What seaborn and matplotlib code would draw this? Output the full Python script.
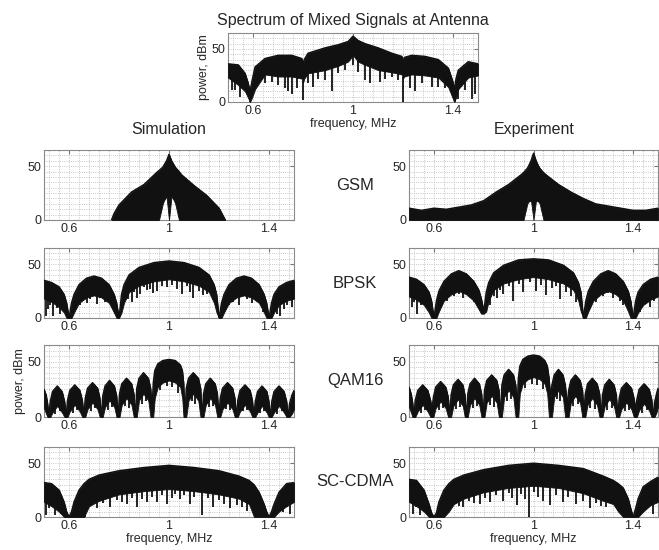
import numpy as np
import matplotlib
matplotlib.use("Agg")
import matplotlib.pyplot as plt
from matplotlib.ticker import MultipleLocator
import seaborn as sns

sns.set_style("white")
plt.rcParams['font.family'] = ['Liberation Sans', 'DejaVu Sans']

# ---- mixed signal at antenna (envelopes) ----
f_mix = [0.5, 0.541, 0.568, 0.58, 0.588, 0.596, 0.608, 0.648, 0.70, 0.755, 0.795, 0.80, 0.805,
         0.82, 0.888, 0.941, 0.98, 1.0, 1.02, 1.048, 1.101, 1.155, 1.195, 1.20, 1.205, 1.235,
         1.288, 1.341, 1.381, 1.398, 1.405, 1.412, 1.421, 1.461, 1.5]
top_mix = [36, 35, 27, 18, 10, 20, 33, 41, 44, 44, 41, 36, 40,
           46, 51, 54, 57, 62, 58, 55, 51, 46, 43, 38, 42, 44,
           43, 40, 32, 20, 12, 22, 30, 38, 36]
low_mix = [23, 16, 10, 4, 0, 4, 12, 26, 24, 24, 22, 18, 22,
           27, 30, 34, 38, 44, 38, 35, 30, 28, 26, 22, 24, 26,
           25, 23, 14, 4, 0, 4, 12, 23, 25]
sf_mix = [0.515, 0.528, 0.548, 0.561, 0.588, 0.621, 0.648, 0.675, 0.701, 0.728, 0.741, 0.755,
          0.775, 0.801, 0.821, 0.841, 0.861, 0.888, 0.915, 0.941, 0.968, 1.0, 1.021, 1.048,
          1.068, 1.108, 1.128, 1.155, 1.181, 1.201, 1.228, 1.248, 1.275, 1.315, 1.341, 1.368,
          1.408, 1.421, 1.448, 1.475, 1.488]
sd_mix = [11, 11, 5, 16, 0, 21, 18, 19, 16, 13, 10, 8,
          13, 2, 18, 14, 22, 21, 10, 27, 30, 35, 28, 21,
          18, 19, 22, 24, 21, 0, 13, 10, 18, 14, 14, 13,
          0, 3, 11, 3, 8]

# ---- GSM ----
f_gsm_sim = [0.77, 0.78, 0.80, 0.85, 0.90, 0.95, 0.96, 0.975, 0.98, 0.99, 1.0, 1.01, 1.02,
             1.025, 1.04, 1.05, 1.10, 1.15, 1.20, 1.225]
top_gsm_sim = [0, 6, 14, 26, 33, 44, 46, 49, 51, 55, 61, 55, 51, 49, 45, 42, 32, 23, 11, 0]
low_gsm_sim = [0, 0, 0, 0, 0, 0, 0, 15, 18, 22, 0, 22, 18, 15, 0, 0, 0, 0, 0, 0]

f_gsm_exp = [0.5, 0.55, 0.6, 0.65, 0.7, 0.75, 0.8, 0.85, 0.9, 0.95, 0.96, 0.975, 0.98, 0.99,
             1.0, 1.01, 1.02, 1.025, 1.04, 1.05, 1.1, 1.15, 1.2, 1.25, 1.3, 1.35, 1.4, 1.45, 1.5]
top_gsm_exp = [11, 9, 11, 10, 12, 14, 18, 26, 33, 42, 44, 48, 50, 55, 62, 55, 50, 48, 44, 42,
               33, 26, 20, 15, 13, 11, 9, 9, 11]
low_gsm_exp = [0, 0, 0, 0, 0, 0, 0, 0, 0, 0, 0, 15, 17, 18, 0, 18, 17, 15, 0, 0,
               0, 0, 0, 0, 0, 0, 0, 0, 0]

# ---- BPSK ----
f_bpsk = [0.5, 0.53, 0.56, 0.58, 0.59, 0.6, 0.61, 0.62, 0.64, 0.67, 0.7, 0.73, 0.76, 0.78,
          0.79, 0.8, 0.81, 0.82, 0.84, 0.88, 0.94, 1.0, 1.06, 1.12, 1.16, 1.18, 1.19, 1.2,
          1.21, 1.22, 1.24, 1.27, 1.3, 1.33, 1.36, 1.38, 1.39, 1.4, 1.41, 1.42, 1.44, 1.47, 1.5]
top_bpsk_sim = [35, 33, 29, 22, 14, 0, 14, 22, 31, 37, 39, 37, 31, 22,
                14, 0, 22, 31, 40, 47, 51.5, 53, 51.5, 47, 40, 31, 22, 0,
                14, 22, 31, 37, 39, 37, 31, 22, 14, 0, 14, 22, 29, 33, 35]
low_bpsk_sim = [18, 15, 10, 5, 0, 0, 0, 5, 14, 19, 21, 19, 14, 5,
                0, 0, 5, 14, 24, 30, 34, 36, 34, 30, 24, 14, 5, 0,
                0, 5, 14, 19, 21, 19, 14, 5, 0, 0, 0, 5, 12, 16, 18]
top_bpsk_exp = [38, 36, 31, 24, 16, 0, 16, 25, 34, 41, 44, 41, 34, 26,
                18, 6, 24, 33, 42, 49, 54, 55, 54, 49, 42, 33, 24, 0,
                16, 25, 34, 41, 44, 41, 34, 25, 16, 0, 16, 24, 31, 36, 38]
low_bpsk_exp = [20, 17, 12, 5, 0, 0, 0, 6, 16, 22, 25, 22, 16, 8,
                4, 4, 6, 16, 26, 32, 36, 38, 36, 32, 26, 16, 6, 0,
                0, 6, 16, 22, 25, 22, 16, 6, 0, 0, 0, 5, 12, 17, 20]
sf_bpsk_sim = [0.509, 0.516, 0.523, 0.536, 0.55, 0.563, 0.63, 0.643, 0.656, 0.67, 0.683, 0.71,
               0.723, 0.743, 0.763, 0.783, 0.836, 0.85, 0.86, 0.87, 0.883, 0.9, 0.91, 0.923,
               0.937, 0.95, 0.97, 0.99, 1.01, 1.03, 1.05, 1.07, 1.083, 1.097, 1.12, 1.137,
               1.15, 1.177, 1.224, 1.24, 1.257, 1.28, 1.31, 1.33, 1.35, 1.377, 1.43, 1.444,
               1.458, 1.471, 1.49]
sd_bpsk_sim = [2, 8, 12, 2, 9, 4, 10, 12, 16, 14, 18, 13,
               19, 15, 16, 10, 18, 15, 24, 19, 22, 29, 26, 27,
               23, 25, 30, 29, 31, 27, 22, 30, 24, 19, 25, 21,
               22, 19, 10, 12, 15, 12, 18, 14, 19, 6, 4, 2,
               8, 12, 10]
sf_bpsk_exp = [0.511, 0.52, 0.531, 0.55, 0.571, 0.624, 0.64, 0.651, 0.68, 0.7, 0.718, 0.74,
               0.76, 0.785, 0.825, 0.84, 0.852, 0.865, 0.878, 0.9, 0.918, 0.94, 0.959, 0.985,
               1.012, 1.03, 1.052, 1.075, 1.09, 1.106, 1.13, 1.15, 1.172, 1.219, 1.235, 1.253,
               1.28, 1.3, 1.32, 1.346, 1.36, 1.386, 1.426, 1.445, 1.467, 1.485]
sd_bpsk_exp = [10, 15, 4, 12, 12, 15, 19, 16, 20, 22, 19, 20,
               15, 7, 12, 20, 19, 26, 22, 30, 16, 32, 24, 33,
               25, 31, 21, 28, 30, 18, 24, 20, 15, 13, 17, 15,
               20, 23, 19, 16, 12, 4, 6, 14, 10, 16]

# ---- QAM16 ----
f_qam_sim = [0.5, 0.508, 0.514, 0.519, 0.525, 0.534, 0.553, 0.572, 0.582, 0.588,
             0.594, 0.603, 0.623, 0.643, 0.653, 0.659, 0.665, 0.674, 0.694, 0.714, 0.723, 0.729,
             0.735, 0.744, 0.762, 0.781, 0.790, 0.796, 0.802, 0.811, 0.830, 0.850, 0.859, 0.865,
             0.871, 0.880, 0.898, 0.917, 0.926, 0.932,
             0.937, 0.943, 0.955, 0.975, 1.0, 1.025, 1.045, 1.053, 1.058, 1.063,
             1.069, 1.078, 1.097, 1.117, 1.126, 1.132, 1.138, 1.147, 1.165, 1.184, 1.193, 1.199,
             1.205, 1.214, 1.234, 1.254, 1.263, 1.269, 1.275, 1.284, 1.304, 1.324, 1.333, 1.339,
             1.345, 1.354, 1.372, 1.391, 1.399, 1.405, 1.411, 1.420, 1.440, 1.460, 1.470, 1.476,
             1.482, 1.492, 1.5]
top_qam_sim = [25, 20, 12, 0, 14, 23, 28, 23, 14, 0,
               15, 24, 29, 24, 15, 0, 17, 26, 31, 26, 17, 0,
               19, 28, 33, 28, 19, 0, 21, 30, 35, 30, 21, 0,
               26, 35, 40, 35, 26, 6,
               31, 42, 48, 51, 52, 51, 47, 42, 31, 0,
               26, 35, 40, 35, 26, 0, 21, 30, 35, 30, 21, 0,
               17, 26, 31, 26, 17, 0, 15, 24, 29, 24, 15, 0,
               14, 23, 28, 23, 14, 0, 14, 23, 28, 23, 14, 0,
               12, 20, 24]
low_qam_sim = [8, 3, 0, 0, 0, 4, 10, 4, 0, 0,
               0, 5, 11, 5, 0, 0, 0, 7, 13, 7, 0, 0,
               0, 9, 15, 9, 0, 0, 0, 11, 17, 11, 0, 0,
               0, 15, 21, 15, 0, 0,
               0, 17, 27, 31, 33, 31, 27, 17, 0, 0,
               0, 15, 21, 15, 0, 0, 0, 11, 17, 11, 0, 0,
               0, 7, 13, 7, 0, 0, 0, 5, 11, 5, 0, 0,
               0, 4, 10, 4, 0, 0, 0, 4, 10, 4, 0, 0,
               0, 3, 7]
sf_qam_sim = [0.545, 0.562, 0.615, 0.632, 0.686, 0.703, 0.755, 0.77, 0.822, 0.84, 0.89, 0.906,
              0.965, 0.99, 1.012, 1.035, 1.09, 1.105, 1.158, 1.175, 1.226, 1.243, 1.296, 1.313,
              1.365, 1.38, 1.432, 1.45]
sd_qam_sim = [3, 5, 4, 6, 5, 8, 6, 9, 10, 8, 12, 14,
              24, 28, 27, 22, 14, 12, 9, 10, 7, 6, 5, 6,
              4, 5, 3, 5]

f_qam_exp = [0.5, 0.508, 0.514, 0.519, 0.525, 0.535, 0.555, 0.575, 0.586, 0.592,
             0.598, 0.607, 0.627, 0.647, 0.657, 0.663, 0.669, 0.678, 0.697, 0.716, 0.724, 0.730,
             0.736, 0.745, 0.763, 0.782, 0.791, 0.797, 0.803, 0.812, 0.832, 0.852, 0.861, 0.867,
             0.873, 0.882, 0.900, 0.919, 0.928, 0.934,
             0.939, 0.945, 0.957, 0.977, 1.0, 1.025, 1.045, 1.055, 1.062, 1.068,
             1.074, 1.083, 1.100, 1.118, 1.127, 1.135, 1.141, 1.150, 1.168, 1.187, 1.196, 1.202,
             1.208, 1.217, 1.236, 1.255, 1.265, 1.271, 1.277, 1.286, 1.304, 1.323, 1.332, 1.338,
             1.344, 1.353, 1.373, 1.393, 1.403, 1.409, 1.415, 1.424, 1.444, 1.464, 1.474, 1.480,
             1.486, 1.494, 1.5]
top_qam_exp = [27, 21, 13, 0, 15, 24, 29, 24, 15, 7,
               18, 27, 32, 27, 18, 0, 20, 29, 34, 29, 20, 0,
               21, 30, 35, 30, 21, 0, 24, 33, 38, 33, 24, 0,
               29, 38, 43, 38, 29, 7,
               35, 46, 52, 55, 56, 55, 51, 46, 35, 17,
               29, 38, 43, 38, 29, 11, 24, 33, 38, 33, 24, 4,
               21, 30, 35, 30, 21, 0, 20, 29, 34, 29, 20, 0,
               17, 26, 31, 26, 17, 7, 16, 25, 30, 25, 16, 0,
               13, 21, 26]
low_qam_exp = [9, 4, 0, 0, 0, 5, 11, 5, 0, 0,
               0, 8, 14, 8, 0, 0, 0, 10, 16, 10, 0, 0,
               0, 11, 17, 11, 0, 0, 0, 13, 19, 13, 0, 0,
               0, 18, 24, 18, 0, 0,
               0, 21, 30, 34, 36, 34, 30, 21, 0, 0,
               0, 18, 24, 18, 0, 0, 0, 13, 19, 13, 0, 0,
               0, 11, 17, 11, 0, 0, 0, 10, 16, 10, 0, 0,
               0, 7, 13, 7, 0, 0, 0, 6, 12, 6, 0, 0,
               0, 4, 9]
sf_qam_exp = [0.548, 0.565, 0.62, 0.636, 0.69, 0.706, 0.757, 0.772, 0.825, 0.842, 0.893, 0.91,
              0.965, 0.992, 1.015, 1.038, 1.093, 1.108, 1.16, 1.178, 1.228, 1.246, 1.297, 1.315,
              1.366, 1.382, 1.437, 1.455]
sd_qam_exp = [4, 6, 6, 8, 7, 9, 8, 10, 11, 9, 14, 16,
              26, 30, 29, 25, 16, 14, 10, 12, 8, 7, 6, 8,
              5, 6, 4, 6]

# ---- SC-CDMA ----
f_cdma = [0.5, 0.53, 0.56, 0.58, 0.59, 0.6, 0.61, 0.62, 0.64, 0.66, 0.68, 0.72, 0.8, 0.9, 1.0,
          1.1, 1.2, 1.28, 1.32, 1.34, 1.36, 1.38, 1.39, 1.4, 1.41, 1.42, 1.44, 1.47, 1.5]
top_cdma_sim = [32, 31, 25, 14, 5, 0, 5, 14, 25, 31, 35, 39, 43, 46, 48,
                46, 43, 38, 34, 30, 23, 12, 5, 0, 5, 12, 23, 31, 32]
low_cdma_sim = [14, 10, 5, 0, 0, 0, 0, 0, 0, 0, 10, 15, 21, 24, 26,
                24, 21, 17, 12, 0, 0, 0, 0, 0, 0, 0, 5, 10, 14]
top_cdma_exp = [35, 34, 25, 12, 4, 0, 4, 14, 25, 31, 35, 39, 44, 48, 50,
                48, 45, 38, 34, 31, 27, 17, 8, 0, 8, 17, 28, 33, 37]
low_cdma_exp = [14, 10, 5, 0, 0, 0, 0, 0, 0, 5, 12, 17, 23, 27, 29,
                27, 22, 15, 12, 5, 0, 0, 0, 0, 0, 0, 5, 11, 14]
sf_cdma_sim = [0.509, 0.52, 0.543, 0.569, 0.663, 0.69, 0.71, 0.735, 0.763, 0.79, 0.81, 0.83,
               0.85, 0.87, 0.89, 0.91, 0.93, 0.95, 0.97, 0.99, 1.01, 1.025, 1.043, 1.06,
               1.083, 1.1, 1.13, 1.155, 1.177, 1.2, 1.22, 1.244, 1.27, 1.29, 1.31, 1.35,
               1.457, 1.47, 1.484]
sd_cdma_sim = [2, 8, 2, 3, 0, 11, 8, 13, 9, 16, 14, 12,
               18, 9, 17, 14, 19, 14, 20, 12, 18, 21, 17, 20,
               12, 19, 2, 18, 9, 16, 12, 8, 11, 9, 6, 5,
               5, 9, 3]
sf_cdma_exp = [0.517, 0.53, 0.544, 0.584, 0.68, 0.7, 0.718, 0.74, 0.76, 0.785, 0.805, 0.825,
               0.85, 0.878, 0.9, 0.915, 0.932, 0.95, 0.965, 0.983, 1.0, 1.02, 1.039, 1.066,
               1.09, 1.119, 1.14, 1.172, 1.2, 1.226, 1.25, 1.27, 1.293, 1.44, 1.46, 1.48]
sd_cdma_exp = [3, 9, 2, 5, 12, 10, 9, 15, 13, 12, 18, 14,
               20, 15, 22, 18, 11, 21, 17, 0, 23, 19, 15, 11,
               20, 14, 19, 12, 15, 8, 13, 10, 9, 6, 10, 3]

ink = "#111111"
W, H = 659, 550


def box(x0, y0, x1, y1):
    return [x0 / W, 1 - y1 / H, (x1 - x0) / W, (y1 - y0) / H]


def panel(ax, f, top, low, sf=None, sd=None):
    ax.fill_between(f, low, top, facecolor=ink, edgecolor=ink, lw=0.6, zorder=3)
    sns.lineplot(x=f, y=top, ax=ax, color=ink, lw=1.0, zorder=4, sort=False)
    if sf is not None:
        ax.vlines(sf, sd, np.interp(sf, f, low) + 1, color=ink, lw=1.3, zorder=4)
    ax.set_xlim(0.5, 1.5)
    ax.set_ylim(0, 65)
    ax.set_xticks([0.6, 1, 1.4])
    ax.set_xticklabels(["0.6", "1", "1.4"])
    ax.set_yticks([0, 50])
    ax.xaxis.set_minor_locator(MultipleLocator(0.04))
    ax.yaxis.set_minor_locator(MultipleLocator(5))
    ax.grid(which="both", color="#b5b5b5", ls=":", lw=0.6)
    ax.set_axisbelow(True)
    ax.tick_params(which="major", direction="in", length=3, top=True, right=True,
                   labelsize=9, pad=2, color="#777777")
    ax.tick_params(which="minor", length=0)
    for s in ax.spines.values():
        s.set_color("#8a8a8a")
        s.set_linewidth(0.8)


fig = plt.figure(figsize=(W / 100, H / 100), dpi=100)

ax_top = fig.add_axes(box(228, 33, 478, 102))
panel(ax_top, f_mix, top_mix, low_mix, sf_mix, sd_mix)
ax_top.set_xlabel("frequency, MHz", fontsize=9, labelpad=1)
ax_top.set_ylabel("power, dBm", fontsize=9, labelpad=1)
fig.text(353 / W, 1 - 20 / H, "Spectrum of Mixed Signals at Antenna", ha="center",
         va="center", fontsize=11.5)

rows = [(150, 220), (248, 318), (345, 417), (447, 517)]
names = ["GSM", "BPSK", "QAM16", "SC-CDMA"]
sim = [(f_gsm_sim, top_gsm_sim, low_gsm_sim, None, None),
       (f_bpsk, top_bpsk_sim, low_bpsk_sim, sf_bpsk_sim, sd_bpsk_sim),
       (f_qam_sim, top_qam_sim, low_qam_sim, sf_qam_sim, sd_qam_sim),
       (f_cdma, top_cdma_sim, low_cdma_sim, sf_cdma_sim, sd_cdma_sim)]
exp = [(f_gsm_exp, top_gsm_exp, low_gsm_exp, None, None),
       (f_bpsk, top_bpsk_exp, low_bpsk_exp, sf_bpsk_exp, sd_bpsk_exp),
       (f_qam_exp, top_qam_exp, low_qam_exp, sf_qam_exp, sd_qam_exp),
       (f_cdma, top_cdma_exp, low_cdma_exp, sf_cdma_exp, sd_cdma_exp)]

for i, (y0, y1) in enumerate(rows):
    axl = fig.add_axes(box(44, y0, 294, y1))
    panel(axl, *sim[i])
    axr = fig.add_axes(box(409, y0, 658, y1))
    panel(axr, *exp[i])
    fig.text(355 / W, 1 - (y0 + y1) / 2 / H, names[i], ha="center", va="center", fontsize=12)
    if i == 2:
        axl.set_ylabel("power, dBm", fontsize=9, labelpad=1)
    if i == 3:
        axl.set_xlabel("frequency, MHz", fontsize=9, labelpad=1)
        axr.set_xlabel("frequency, MHz", fontsize=9, labelpad=1)

fig.text(169 / W, 1 - 129 / H, "Simulation", ha="center", va="center", fontsize=11.5)
fig.text(534 / W, 1 - 129 / H, "Experiment", ha="center", va="center", fontsize=11.5)

fig.savefig("out.png", dpi=100)
